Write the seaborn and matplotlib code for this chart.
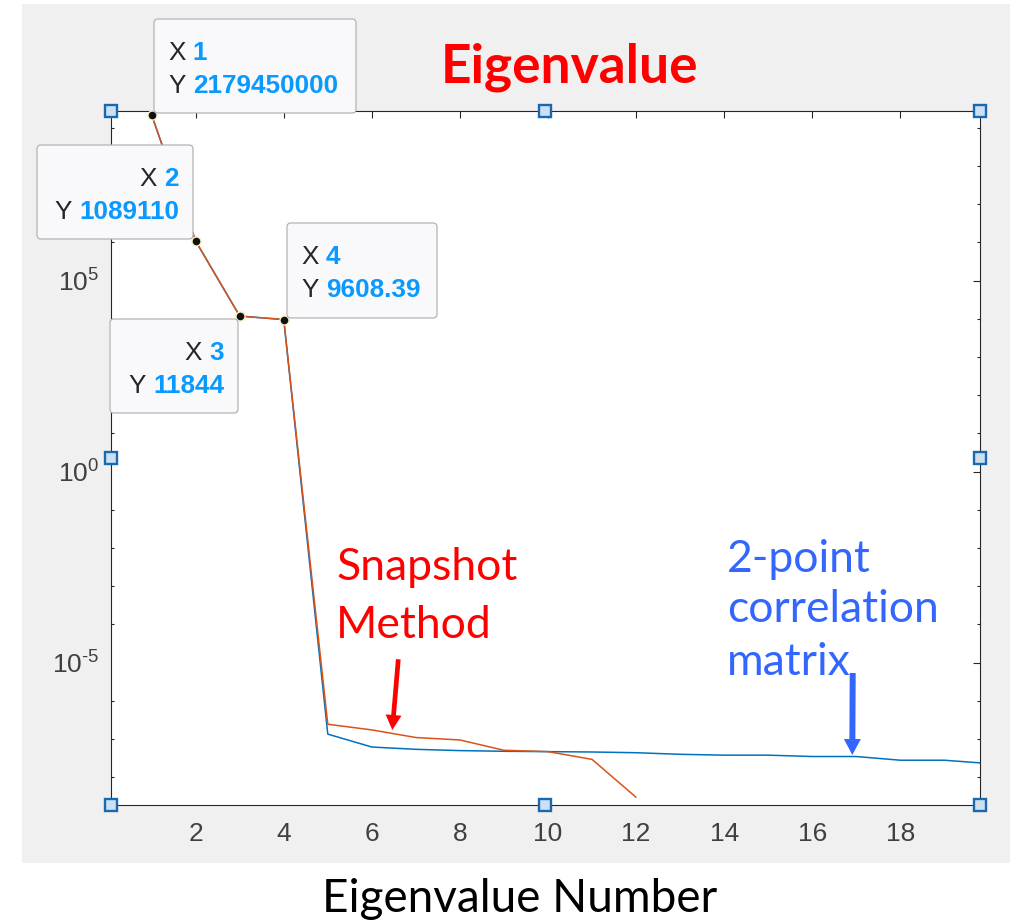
import numpy as np
import pandas as pd
import matplotlib
matplotlib.use("Agg")
import matplotlib.pyplot as plt
import seaborn as sns
from matplotlib.patches import Rectangle, FancyBboxPatch, FancyArrowPatch, ArrowStyle
from matplotlib.transforms import IdentityTransform
from matplotlib.ticker import FixedLocator, LogLocator, FuncFormatter, NullFormatter

# ---- data -------------------------------------------------------------
eig_number = list(range(1, 21))

# eigenvalues from the 2-point correlation matrix
correlation_vals = [2179450000, 1089110, 11844, 9608.39,
                    1.35e-7, 6.2e-8, 5.4e-8, 5.0e-8, 4.8e-8, 4.7e-8,
                    4.6e-8, 4.4e-8, 4.0e-8, 3.8e-8, 3.8e-8, 3.5e-8,
                    3.5e-8, 2.8e-8, 2.8e-8, 2.3e-8]

# eigenvalues from the snapshot method (remaining ones are below machine precision)
snapshot_vals = [2179450000, 1089110, 11844, 9608.39,
                 2.45e-7, 1.74e-7, 1.10e-7, 9.5e-8, 5.1e-8, 4.7e-8,
                 2.95e-8, 3.0e-9]

series_names = ["2-point correlation matrix", "Snapshot Method"]
series_colors = ["#0072BD", "#D95319"]
x_ticks = [2, 4, 6, 8, 10, 12, 14, 16, 18]
y_major = [1e-5, 1e0, 1e5]
tip_count = 4

# ---- style ------------------------------------------------------------
sns.set_style("white")
plt.rcParams["font.family"] = ["Liberation Sans", "DejaVu Sans"]
plt.rcParams["mathtext.fontset"] = "custom"
plt.rcParams["mathtext.rm"] = "Liberation Sans"
plt.rcParams["mathtext.it"] = "Liberation Sans:italic"
plt.rcParams["mathtext.bf"] = "Liberation Sans:bold"
plt.rcParams["axes.unicode_minus"] = False

W, H = 1010, 923
fig = plt.figure(figsize=(W / 100, H / 100), dpi=100)
fig.patch.set_facecolor("white")


def fx(px):
    return px / W


def fy(py):
    return 1 - py / H


# grey figure window behind the axes
fig.add_artist(Rectangle((fx(22), fy(863)), fx(1010) - fx(22), fy(4) - fy(863),
                         transform=fig.transFigure, facecolor="#f0f0f0",
                         edgecolor="none", zorder=-5))

ax_left, ax_right, ax_top, ax_bottom = 110.5, 980, 111, 805
ax = fig.add_axes([fx(ax_left), fy(ax_bottom), fx(ax_right) - fx(ax_left),
                   fy(ax_top) - fy(ax_bottom)])
ax.set_facecolor("white")
ax.set_yscale("log")

df = pd.concat([
    pd.DataFrame({"n": eig_number[:len(correlation_vals)], "value": correlation_vals,
                  "method": series_names[0]}),
    pd.DataFrame({"n": eig_number[:len(snapshot_vals)], "value": snapshot_vals,
                  "method": series_names[1]}),
], ignore_index=True)

sns.lineplot(data=df, x="n", y="value", hue="method", hue_order=series_names,
             palette=dict(zip(series_names, series_colors)), estimator=None,
             sort=False, legend=False, linewidth=1.1, ax=ax)

# data-tip markers on the first snapshot eigenvalues
ax.plot(eig_number[:tip_count], snapshot_vals[:tip_count], ls="none", marker="o",
        ms=6.5, mfc="#111111", mec="#f4f1c4", mew=1.0, clip_on=False, zorder=6)

ax.set_xlim(0.066, 19.81)
ax.set_ylim(10 ** -8.725, 10 ** 9.442)
ax.set_xlabel("")
ax.set_ylabel("")


def decade_label(v, pos):
    e = int(round(np.log10(v)))
    exp = r"\text{-}%d" % abs(e) if e < 0 else "%d" % e
    return r"$\mathdefault{10^{%s}}$" % exp


ax.xaxis.set_major_locator(FixedLocator(x_ticks))
ax.yaxis.set_major_locator(FixedLocator(y_major))
ax.yaxis.set_major_formatter(FuncFormatter(decade_label))
ax.yaxis.set_minor_locator(LogLocator(base=10, subs=(1.0,), numticks=60))
ax.yaxis.set_minor_formatter(NullFormatter())

ax.tick_params(which="major", direction="in", length=5, width=0.8, top=True,
               right=True, color="#262626", labelcolor="#404040", labelsize=19)
ax.tick_params(axis="x", which="major", pad=12)
ax.tick_params(axis="y", which="major", pad=8)
ax.tick_params(which="minor", direction="in", length=2.5, width=0.8, left=True,
               right=True, color="#262626")
for sp in ax.spines.values():
    sp.set_visible(True)
    sp.set_color("#262626")
    sp.set_linewidth(0.8)

# selection handles around the axes
hx = [0, 0.5, 1, 0, 1, 0, 0.5, 1]
hy = [1, 1, 1, 0.5, 0.5, 0, 0, 0]
ax.plot(hx, hy, transform=ax.transAxes, ls="none", marker="s", ms=9,
        mfc="#c9e0f5", mec="#1c68ad", mew=1.7, clip_on=False, zorder=10)

# ---- data tips ----------------------------------------------------------
renderer = fig.canvas.get_renderer()
tip_font = dict(family=["Liberation Sans", "DejaVu Sans"], size=18.8)
tip_boxes = [(154, 19, 356, 113, "left"),
             (37, 145, 193, 239, "right"),
             (110, 319, 238, 413, "right"),
             (287, 223, 437, 318, "left")]


def fmt(v):
    return "{:.12g}".format(v)


for i, (x0, y0, x1, y1, align) in enumerate(tip_boxes):
    fig.add_artist(FancyBboxPatch((x0, H - y1), x1 - x0, y1 - y0,
                                  boxstyle="round,pad=0,rounding_size=4",
                                  transform=IdentityTransform(), facecolor="#f9f9fb",
                                  edgecolor="#b4b4b4", linewidth=0.9, zorder=5))
    rows = [("X", fmt(eig_number[i])), ("Y", fmt(snapshot_vals[i]))]
    for (lab, val), base in zip(rows, (y0 + 41, y0 + 74)):
        if align == "left":
            t = fig.text(fx(x0 + 14), fy(base), lab, color="#262626", va="baseline",
                         ha="left", zorder=6, **tip_font)
            w = t.get_window_extent(renderer).width
            fig.text(fx(x0 + 14 + w + 7.5), fy(base), val, color="#0a99ff",
                     fontweight="bold", va="baseline", ha="left", zorder=6, **tip_font)
        else:
            t = fig.text(fx(x1 - 14), fy(base), val, color="#0a99ff",
                         fontweight="bold", va="baseline", ha="right", zorder=6,
                         **tip_font)
            w = t.get_window_extent(renderer).width
            fig.text(fx(x1 - 14 - w - 7.5), fy(base), lab, color="#262626",
                     va="baseline", ha="right", zorder=6, **tip_font)

# ---- titles and annotations ----------------------------------------------
lato = ["Lato", "DejaVu Sans"]
fig.text(fx(441), fy(82.7), "Eigenvalue", color="#ff0000", fontweight="bold",
         family=lato, size=38.3, va="baseline", ha="left", zorder=7)
fig.text(fx(322), fy(911.7), "Eigenvalue Number", color="black", family=lato,
         size=33, va="baseline", ha="left", zorder=7)

for txt, base in (("Snapshot", 580), ("Method", 638)):
    fig.text(fx(336), fy(base), txt, color="#ff0000", family=lato, size=32,
             va="baseline", ha="left", zorder=7)
for txt, base in (("2-point", 571.7), ("correlation", 621.7), ("matrix", 675)):
    fig.text(fx(727), fy(base), txt, color="#3366ff", family=lato, size=32,
             va="baseline", ha="left", zorder=7)

fig.add_artist(FancyArrowPatch((398.3, H - 659.3), (392.3, H - 730),
                               transform=IdentityTransform(),
                               arrowstyle=ArrowStyle.Simple(head_length=1.08,
                                                            head_width=1.15,
                                                            tail_width=0.34),
                               mutation_scale=10, shrinkA=0, shrinkB=0,
                               facecolor="#ff0000", edgecolor="none", zorder=7))
fig.add_artist(FancyArrowPatch((852.7, H - 673), (852.3, H - 755),
                               transform=IdentityTransform(),
                               arrowstyle=ArrowStyle.Simple(head_length=1.15,
                                                            head_width=1.22,
                                                            tail_width=0.43),
                               mutation_scale=10, shrinkA=0, shrinkB=0,
                               facecolor="#3366ff", edgecolor="none", zorder=7))

fig.savefig("out.png", dpi=100)
